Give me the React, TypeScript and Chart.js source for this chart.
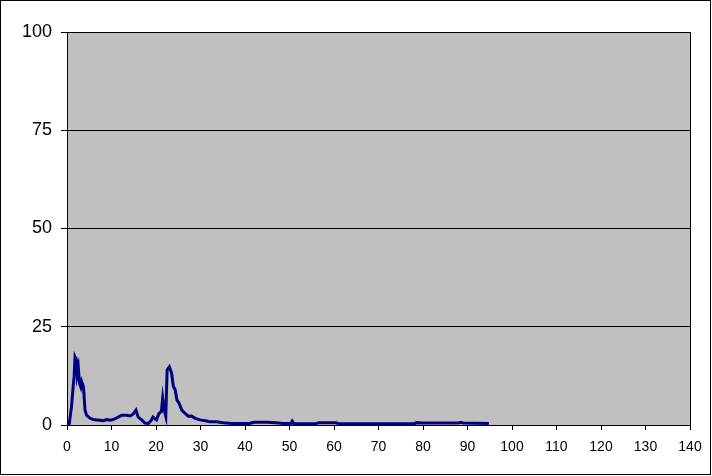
import React, { useEffect, useRef } from "react";
import { Chart, registerables } from "chart.js";

Chart.register(...registerables);

const xValues = [
  0, 0.5, 1.0, 1.4, 1.6, 1.8, 2.0, 2.2, 2.3, 2.55, 2.8, 3.1, 3.3, 3.7, 4.05, 4.4, 5.2, 5.9, 6.7, 7.4,
  8.2, 8.9, 9.7, 10.4, 11.5, 12.3, 13.4, 14.2, 14.9, 15.5, 16.0, 16.8, 17.5, 18.3, 19.0, 19.3, 20.1,
  20.7, 21.2, 21.5, 21.8, 22.2, 22.5, 23.0, 23.5, 23.9, 24.3, 24.7, 25.2, 25.8, 26.5, 27.3, 28.0,
  28.8, 29.9, 31.4, 32.1, 33.6, 35.1, 37, 41, 42, 45, 47, 48.5, 50.3, 50.6, 51, 56, 56.5, 60.5, 61,
  78, 78.5, 80, 81, 88, 88.5, 89, 94.8,
];
const yValues = [
  0, 0.3, 4.5, 10, 12.3, 17.3, 16.8, 16.5, 13, 14.5, 10.7, 9.7, 11, 9.7, 3.8, 2.5, 1.7, 1.4, 1.3, 1.2,
  1.1, 1.4, 1.2, 1.4, 2.0, 2.5, 2.5, 2.3, 2.8, 3.8, 2.0, 1.3, 0.5, 0.4, 1.3, 2.0, 1.3,
  3.0, 3.4, 6.8, 4.0, 2.2, 14, 14.8, 13.2, 9.8, 9, 6.4, 5.5, 3.8, 3.0, 2.2, 2.3,
  1.7, 1.3, 1.0, 0.8, 0.8, 0.6, 0.4, 0.4, 0.7, 0.7, 0.6, 0.4, 0.4, 1.0, 0.3, 0.3, 0.6, 0.6, 0.3,
  0.3, 0.6, 0.5, 0.5, 0.5, 0.7, 0.5, 0.4,
];

const X_MIN = 0;
const X_MAX = 140;
const X_STEP = 10;
const Y_MIN = 0;
const Y_MAX = 100;
const Y_STEP = 25;

const framePlugin = {
  id: "frame",
  beforeDraw(chart: any) {
    const { ctx, chartArea } = chart;
    ctx.save();
    ctx.fillStyle = "#ffffff";
    ctx.fillRect(0, 0, chart.width, chart.height);
    ctx.fillStyle = "#c0c0c0";
    ctx.fillRect(chartArea.left, chartArea.top, chartArea.right - chartArea.left, chartArea.bottom - chartArea.top);
    ctx.strokeStyle = "#000000";
    ctx.lineWidth = 1;
    ctx.strokeRect(0.5, 0.5, 710, 474);
    ctx.restore();
  },
  afterDatasetsDraw(chart: any) {
    const { ctx, chartArea } = chart;
    ctx.save();
    ctx.strokeStyle = "#000000";
    ctx.lineWidth = 1;
    ctx.strokeRect(
      Math.round(chartArea.left) + 0.5,
      Math.round(chartArea.top) + 0.5,
      Math.round(chartArea.right - chartArea.left),
      Math.round(chartArea.bottom - chartArea.top)
    );
    ctx.restore();
  },
};

export default function App() {
  const ref = useRef<HTMLCanvasElement>(null);
  useEffect(() => {
    document.body.style.margin = "0";
    const data = xValues.map((x, i) => ({ x, y: yValues[i] }));
    const chart = new Chart(ref.current!, {
      type: "line",
      data: {
        datasets: [
          {
            data,
            borderColor: "#000080",
            borderWidth: 3,
            pointRadius: 0,
            fill: false,
            tension: 0,
          },
        ],
      },
      options: {
        animation: false,
        responsive: false,
        parsing: false as any,
        layout: { padding: { left: 0, right: 22, top: 32, bottom: 0 } },
        plugins: { legend: { display: false }, tooltip: { enabled: false } },
        scales: {
          x: {
            type: "linear",
            min: X_MIN,
            max: X_MAX,
            ticks: {
              stepSize: X_STEP,
              color: "#000000",
              font: { family: "Liberation Sans", size: 14 },
              padding: 9,
              maxRotation: 0,
            },
            grid: { drawOnChartArea: false, drawTicks: true, tickLength: 5, color: "#000000" },
            border: { color: "#000000" },
            afterFit(scale: any) {
              scale.height = 51;
            },
          },
          y: {
            type: "linear",
            min: Y_MIN,
            max: Y_MAX,
            ticks: {
              stepSize: Y_STEP,
              color: "#000000",
              font: { family: "Liberation Sans", size: 18 },
              padding: 9,
            },
            grid: { color: "#000000", tickLength: 6 },
            border: { color: "#000000" },
            afterFit(scale: any) {
              scale.width = 67;
            },
          },
        },
      },
      plugins: [framePlugin],
    });
    return () => chart.destroy();
  }, []);
  return <canvas ref={ref} width={712} height={476} style={{ display: "block" }} />;
}
